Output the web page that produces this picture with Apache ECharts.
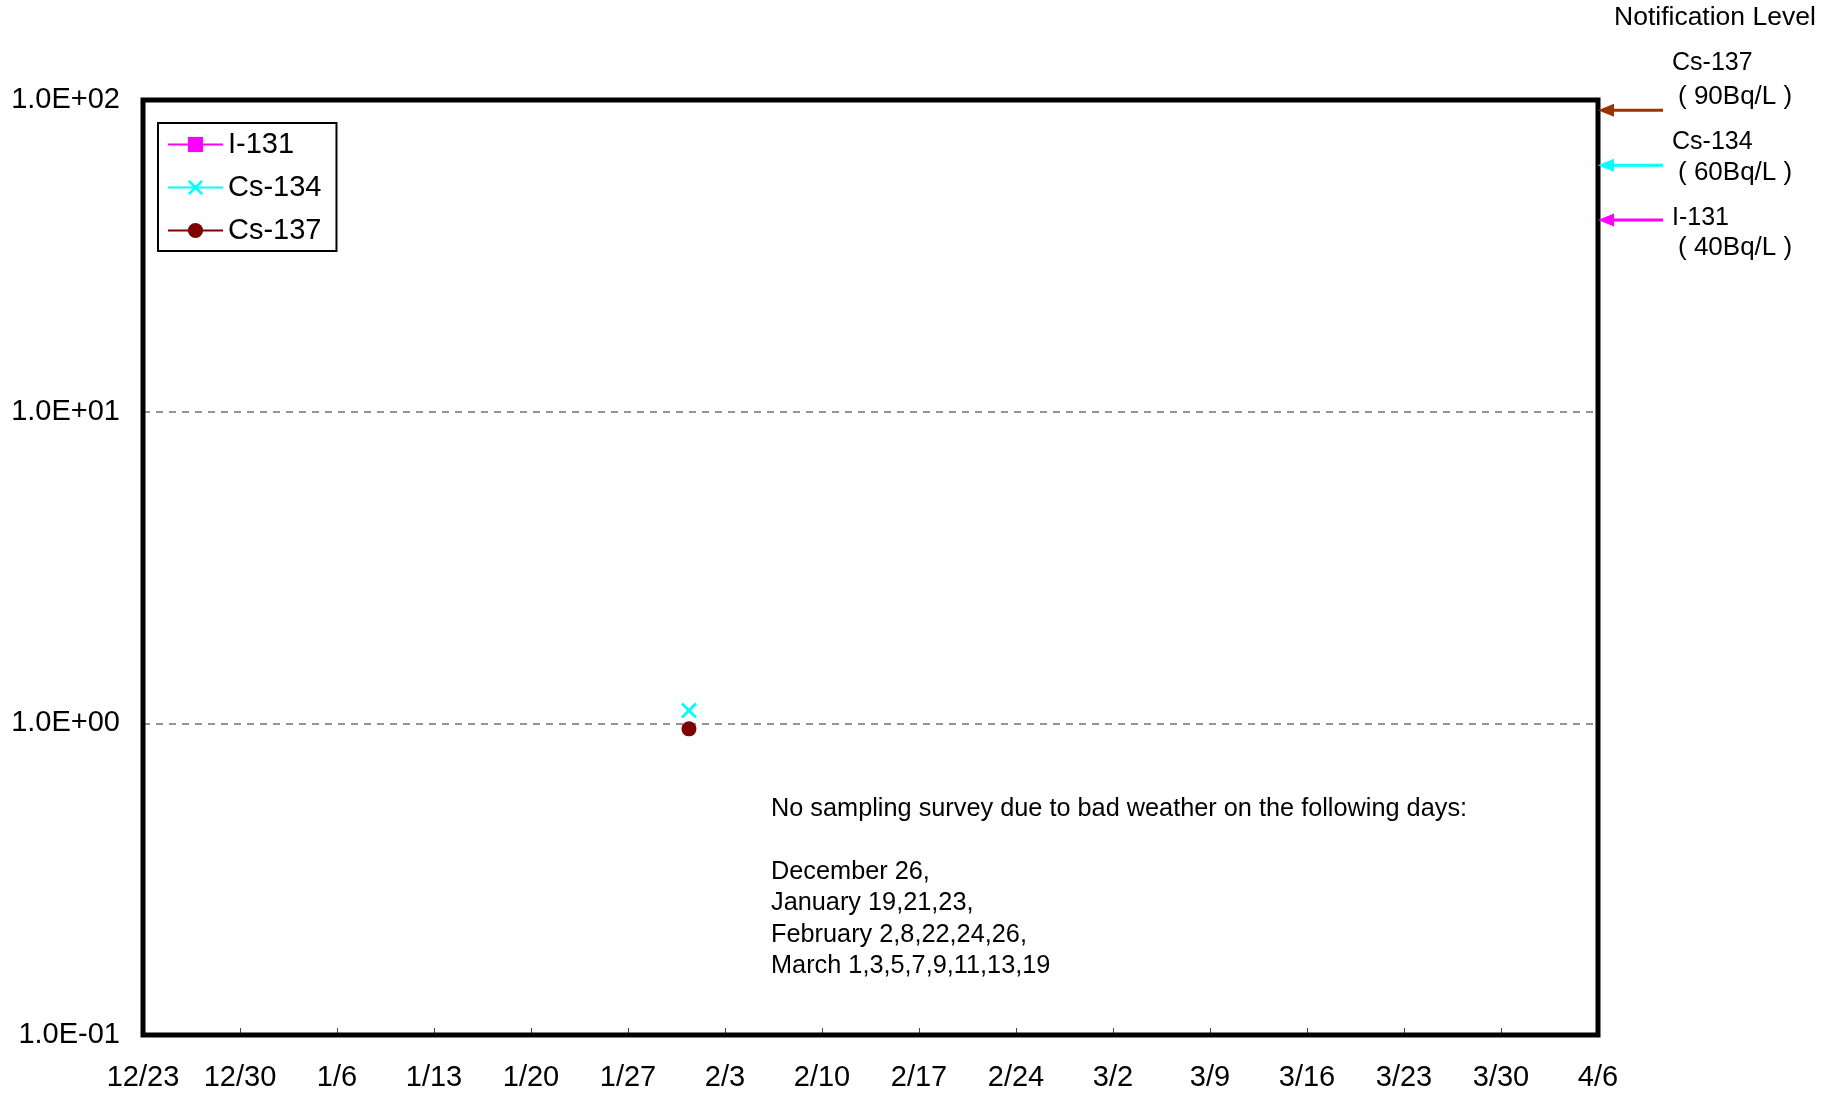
<!DOCTYPE html>
<html>
<head>
<meta charset="utf-8">
<script src="https://cdn.jsdelivr.net/npm/echarts@6/dist/echarts.min.js"></script>
<style>
html,body{margin:0;padding:0;background:#fff;}
#chart{width:1831px;height:1097px;}
</style>
</head>
<body>
<div id="chart"></div>
<script>
// ---- data ----
const xTickLabels = ['12/23','12/30','1/6','1/13','1/20','1/27','2/3','2/10','2/17','2/24','3/2','3/9','3/16','3/23','3/30','4/6'];
const yTickLabels = ['1.0E-01','1.0E+00','1.0E+01','1.0E+02'];
const seriesNames = ['I-131','Cs-134','Cs-137'];
// day offsets from 12/23 (≈39.4 = 1/31, sampled during the day)
const i131Days = [];
const i131Values = [];
const cs134Days = [39.4];
const cs134Values = [1.1];
const cs137Days = [39.4];
const cs137Values = [0.96];
const notifyNames = ['Cs-137','Cs-134','I-131'];
const notifyLevels = [90, 60, 40];
const notifyLabels = ['( 90Bq/L )','( 60Bq/L )','( 40Bq/L )'];
const noteText = 'No sampling survey due to bad weather on the following days:\n\nDecember 26,\nJanuary 19,21,23,\nFebruary 2,8,22,24,26,\nMarch 1,3,5,7,9,11,13,19';

const FONT = "'Liberation Sans', Arial, Helvetica, sans-serif";
const colors = ['#FF00FF', '#00FFFF', '#800000'];
const arrowColors = ['#993300', '#00FFFF', '#FF00FF'];

function pairs(days, vals){ return days.map((d,i)=>[d, vals[i]]); }

const crossPath = 'path://M2,0 L8,6 L14,0 L16,2 L10,8 L16,14 L14,16 L8,10 L2,16 L0,14 L6,8 L0,2 Z';

const chart = echarts.init(document.getElementById('chart'));
const option = {
  backgroundColor: '#fff',
  animation: false,
  grid: {
    left: 143, right: 233, top: 100, bottom: 62,
    show: false
  },
  legend: {
    orient: 'vertical',
    left: 158, top: 123,
    padding: [7, 15, 6, 9],
    borderColor: '#000', borderWidth: 2,
    itemWidth: 55, itemHeight: 19, itemGap: 14,
    textStyle: { fontFamily: FONT, fontSize: 29, color: '#000', lineHeight: 29 },
    data: seriesNames
  },
  xAxis: {
    type: 'value', min: 0, max: 105, interval: 7,
    axisLine: { show: false },
    axisTick: { show: true, inside: true, length: 7, lineStyle: { color: '#444', width: 1 } },
    splitLine: { show: false },
    axisLabel: {
      fontFamily: FONT, fontSize: 29, color: '#000', margin: 28,
      formatter: v => xTickLabels[Math.round(v / 7)] || ''
    }
  },
  yAxis: {
    type: 'log', logBase: 10, min: 0.1, max: 100,
    axisLine: { show: false },
    axisTick: { show: false },
    splitLine: { show: true, lineStyle: { color: '#707070', type: [7, 6], width: 1.5 } },
    axisLabel: {
      fontFamily: FONT, fontSize: 29, color: '#000', margin: 23,
      formatter: v => yTickLabels[Math.round(Math.log10(v)) + 1] || ''
    }
  },
  series: [
    {
      name: seriesNames[0], type: 'line', data: pairs(i131Days, i131Values),
      symbol: 'rect', symbolSize: 15,
      itemStyle: { color: colors[0] }, lineStyle: { color: colors[0], width: 2 }
    },
    {
      name: seriesNames[1], type: 'line', data: pairs(cs134Days, cs134Values),
      symbol: crossPath, symbolSize: 16,
      itemStyle: { color: colors[1] }, lineStyle: { color: colors[1], width: 2 }
    },
    {
      name: seriesNames[2], type: 'line', data: pairs(cs137Days, cs137Values),
      symbol: 'circle', symbolSize: 15,
      itemStyle: { color: colors[2] }, lineStyle: { color: colors[2], width: 2 }
    }
  ]
};
chart.setOption(option);

// ---- frame and annotations (positions from axes) ----
const leftX = chart.convertToPixel({ xAxisIndex: 0 }, 0);
const rightX = chart.convertToPixel({ xAxisIndex: 0 }, 105);
const topY = chart.convertToPixel({ yAxisIndex: 0 }, 100);
const botY = chart.convertToPixel({ yAxisIndex: 0 }, 0.1);
const graphics = [{
  type: 'rect', silent: true, z: 100,
  shape: { x: leftX, y: topY, width: rightX - leftX, height: botY - topY },
  style: { fill: null, stroke: '#000', lineWidth: 5 }
}];
notifyLevels.forEach((lv, i) => {
  const y = chart.convertToPixel({ yAxisIndex: 0 }, lv) - 4;
  const c = arrowColors[i];
  graphics.push({
    type: 'line', silent: true, z: 101,
    shape: { x1: rightX + 14, y1: y, x2: rightX + 65, y2: y },
    style: { stroke: c, lineWidth: 3 }
  });
  graphics.push({
    type: 'polygon', silent: true, z: 101,
    shape: { points: [[rightX, y], [rightX + 16, y - 6.5], [rightX + 16, y + 6.5]] },
    style: { fill: c }
  });
});
const nameY = [63, 142, 218];
const labY = [97, 173, 248];
notifyNames.forEach((n, i) => {
  graphics.push({
    type: 'text', silent: true, x: 1672, y: nameY[i],
    style: { text: n, font: '25px ' + FONT, fill: '#000', textVerticalAlign: 'middle', textAlign: 'left' }
  });
  graphics.push({
    type: 'text', silent: true, x: 1678, y: labY[i],
    style: { text: notifyLabels[i], font: '26px ' + FONT, fill: '#000', textVerticalAlign: 'middle', textAlign: 'left' }
  });
});
graphics.push({
  type: 'text', silent: true, x: 1614, y: 18,
  style: { text: 'Notification Level', font: '26.5px ' + FONT, fill: '#000', textVerticalAlign: 'middle', textAlign: 'left' }
});
graphics.push({
  type: 'text', silent: true, x: 771, y: 793,
  style: { text: noteText, font: '25.3px ' + FONT, fill: '#000', lineHeight: 31.5, textVerticalAlign: 'top', textAlign: 'left' }
});
chart.setOption({ graphic: graphics });
</script>
</body>
</html>
